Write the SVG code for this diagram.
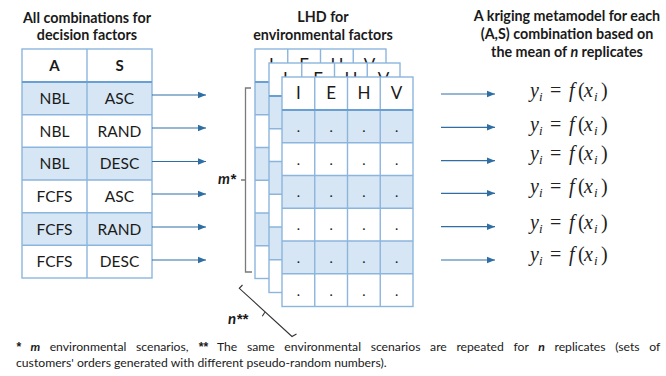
<svg xmlns="http://www.w3.org/2000/svg" xmlns:xlink="http://www.w3.org/1999/xlink" width="666" height="376" viewBox="0 0 666 376">
<style>
text{font-family:Lato,"Liberation Sans",sans-serif;fill:#1a1a1a}
.title{font-size:14.3px;font-weight:bold;text-anchor:middle}
.cell{font-size:15.5px;text-anchor:middle}
.hdr{font-size:15px;font-weight:bold;text-anchor:middle}
.lh{font-size:17px;text-anchor:middle}
.dot{font-size:14px;text-anchor:middle}
.grid{stroke:#8cb5dd;stroke-width:1.4;fill:none}
.hline{stroke:#6a9fd3;stroke-width:2.2}
.blue{fill:#d6e6f4}
.white{fill:#ffffff}
.arrow{stroke:#2f6ea3;stroke-width:1.2;fill:none;marker-end:url(#ah)}
.br{stroke:#7a7a7a;stroke-width:1.3;fill:none}
.br2{stroke:#333;stroke-width:1.1;fill:none}
.fx{font-family:"Liberation Serif","DejaVu Serif",serif;font-size:20px;fill:#222}
.it{font-style:italic}
.sub{font-size:13px;font-style:italic}
.foot{font-size:12.2px}
.bi{font-weight:bold;font-style:italic}
.ast{font-family:"Liberation Sans",sans-serif}
</style>
<defs>
<marker id="ah" markerUnits="userSpaceOnUse" markerWidth="9" markerHeight="8" refX="8" refY="4" orient="auto">
<path d="M0,0.8 L8,4 L0,7.2 Z" fill="#2f6ea3"/>
</marker>
<g id="lhd">
<rect x="0" y="0" width="131" height="229.5" class="white"/>
<rect x="0" y="33" width="131" height="32.75" class="blue"/>
<rect x="0" y="98.5" width="131" height="32.75" class="blue"/>
<rect x="0" y="164" width="131" height="32.75" class="blue"/>
<rect x="0" y="0" width="131" height="229.5" class="grid"/>
<path class="grid" d="M32.75,0V229.5M65.5,0V229.5M98.25,0V229.5M0,65.75H131M0,98.5H131M0,131.25H131M0,164H131M0,196.75H131"/>
<path class="hline" d="M0,33H131"/>
<text class="lh" x="16.4" y="22.3">I</text>
<text class="lh" x="49.1" y="22.3">E</text>
<text class="lh" x="81.9" y="22.3">H</text>
<text class="lh" x="114.6" y="22.3">V</text>
<g class="dot">
<text x="16.4" y="54.9">.</text><text x="49.1" y="54.9">.</text><text x="81.9" y="54.9">.</text><text x="114.6" y="54.9">.</text>
<text x="16.4" y="87.6">.</text><text x="49.1" y="87.6">.</text><text x="81.9" y="87.6">.</text><text x="114.6" y="87.6">.</text>
<text x="16.4" y="120.4">.</text><text x="49.1" y="120.4">.</text><text x="81.9" y="120.4">.</text><text x="114.6" y="120.4">.</text>
<text x="16.4" y="153.1">.</text><text x="49.1" y="153.1">.</text><text x="81.9" y="153.1">.</text><text x="114.6" y="153.1">.</text>
<text x="16.4" y="185.9">.</text><text x="49.1" y="185.9">.</text><text x="81.9" y="185.9">.</text><text x="114.6" y="185.9">.</text>
<text x="16.4" y="218.6">.</text><text x="49.1" y="218.6">.</text><text x="81.9" y="218.6">.</text><text x="114.6" y="218.6">.</text>
</g>
</g>
</defs>
<rect width="666" height="376" fill="#ffffff"/>

<g id="titles">
<text class="title" x="87" y="22.5">All combinations for</text>
<text class="title" x="87" y="39.5">decision factors</text>
<text class="title" x="323" y="22">LHD for</text>
<text class="title" x="323" y="40">environmental factors</text>
<text class="title" x="567" y="20.5">A kriging metamodel for each</text>
<text class="title" x="567" y="38.5">(A,S) combination based on</text>
<text class="title" x="567" y="57">the mean of <tspan font-style="italic">n</tspan> replicates</text>
</g>

<g id="decision-table">
<rect x="22" y="49" width="130" height="229" class="white"/>
<rect x="22" y="82" width="130" height="32.7" class="blue"/>
<rect x="22" y="147.3" width="130" height="32.7" class="blue"/>
<rect x="22" y="212.7" width="130" height="32.6" class="blue"/>
<rect x="22" y="49" width="130" height="229" class="grid"/>
<path class="grid" d="M87,49V278M22,114.7H152M22,147.3H152M22,180H152M22,212.7H152M22,245.3H152"/>
<path class="hline" d="M22,82H152"/>
<text class="hdr" x="54.5" y="71">A</text>
<text class="hdr" x="119.5" y="71">S</text>
<text class="cell" x="54.5" y="103.8">NBL</text><text class="cell" x="119.5" y="103.8">ASC</text>
<text class="cell" x="54.5" y="136.5">NBL</text><text class="cell" x="119.5" y="136.5">RAND</text>
<text class="cell" x="54.5" y="169.1">NBL</text><text class="cell" x="119.5" y="169.1">DESC</text>
<text class="cell" x="54.5" y="201.8">FCFS</text><text class="cell" x="119.5" y="201.8">ASC</text>
<text class="cell" x="54.5" y="234.5">FCFS</text><text class="cell" x="119.5" y="234.5">RAND</text>
<text class="cell" x="54.5" y="267.1">FCFS</text><text class="cell" x="119.5" y="267.1">DESC</text>
</g>

<g id="lhd-back"><use xlink:href="#lhd" href="#lhd" x="255" y="49"/></g>
<g id="lhd-middle"><use xlink:href="#lhd" href="#lhd" x="269" y="63"/></g>
<g id="lhd-front"><use xlink:href="#lhd" href="#lhd" x="282" y="77"/></g>

<g id="m-bracket">
<path class="br" d="M251,88H245.5V272H252M245.5,180H241"/>
<text x="218" y="184" font-size="15" class="bi">m<tspan class="ast">*</tspan></text>
</g>

<g id="n-bracket">
<path class="br2" d="M242.5,285L239.3,288.3L292,336.5L296.5,334M265,312L262.3,316.3"/>
<text x="228" y="324" font-size="15" class="bi">n<tspan class="ast">**</tspan></text>
</g>

<g id="connectors">
<path class="arrow" d="M152,95H206"/>
<path class="arrow" d="M152,128H206"/>
<path class="arrow" d="M152,161.5H206"/>
<path class="arrow" d="M152,194H206"/>
<path class="arrow" d="M152,227H206"/>
<path class="arrow" d="M152,260H206"/>
<path class="arrow" d="M441,94H495"/>
<path class="arrow" d="M441,127.3H495"/>
<path class="arrow" d="M441,160.7H495"/>
<path class="arrow" d="M441,193.3H495"/>
<path class="arrow" d="M441,226.7H495"/>
<path class="arrow" d="M441,260H495"/>
</g>

<g id="metamodels">
<text class="fx" y="97"><tspan class="it" x="530">y</tspan><tspan class="sub" x="539" dy="4">i</tspan><tspan x="550" dy="-4">=</tspan><tspan class="it" x="569">f</tspan><tspan x="578">(</tspan><tspan class="it" x="584">x</tspan><tspan class="sub" x="594" dy="4">i</tspan><tspan x="601" dy="-4">)</tspan></text>
<text class="fx" y="131"><tspan class="it" x="530">y</tspan><tspan class="sub" x="539" dy="4">i</tspan><tspan x="550" dy="-4">=</tspan><tspan class="it" x="569">f</tspan><tspan x="578">(</tspan><tspan class="it" x="584">x</tspan><tspan class="sub" x="594" dy="4">i</tspan><tspan x="601" dy="-4">)</tspan></text>
<text class="fx" y="159.5"><tspan class="it" x="530">y</tspan><tspan class="sub" x="539" dy="4">i</tspan><tspan x="550" dy="-4">=</tspan><tspan class="it" x="569">f</tspan><tspan x="578">(</tspan><tspan class="it" x="584">x</tspan><tspan class="sub" x="594" dy="4">i</tspan><tspan x="601" dy="-4">)</tspan></text>
<text class="fx" y="193"><tspan class="it" x="530">y</tspan><tspan class="sub" x="539" dy="4">i</tspan><tspan x="550" dy="-4">=</tspan><tspan class="it" x="569">f</tspan><tspan x="578">(</tspan><tspan class="it" x="584">x</tspan><tspan class="sub" x="594" dy="4">i</tspan><tspan x="601" dy="-4">)</tspan></text>
<text class="fx" y="228.5"><tspan class="it" x="530">y</tspan><tspan class="sub" x="539" dy="4">i</tspan><tspan x="550" dy="-4">=</tspan><tspan class="it" x="569">f</tspan><tspan x="578">(</tspan><tspan class="it" x="584">x</tspan><tspan class="sub" x="594" dy="4">i</tspan><tspan x="601" dy="-4">)</tspan></text>
<text class="fx" y="261"><tspan class="it" x="530">y</tspan><tspan class="sub" x="539" dy="4">i</tspan><tspan x="550" dy="-4">=</tspan><tspan class="it" x="569">f</tspan><tspan x="578">(</tspan><tspan class="it" x="584">x</tspan><tspan class="sub" x="594" dy="4">i</tspan><tspan x="601" dy="-4">)</tspan></text>
</g>

<g id="footnote">
<text class="foot" x="16" y="351" word-spacing="6.5"><tspan class="bi ast">*</tspan> <tspan class="bi">m</tspan> environmental scenarios, <tspan class="bi ast">**</tspan> The same environmental scenarios are repeated for <tspan class="bi">n</tspan> replicates (sets of</text>
<text class="foot" x="16" y="367">customers' orders generated with different pseudo-random numbers).</text>
</g>
</svg>
